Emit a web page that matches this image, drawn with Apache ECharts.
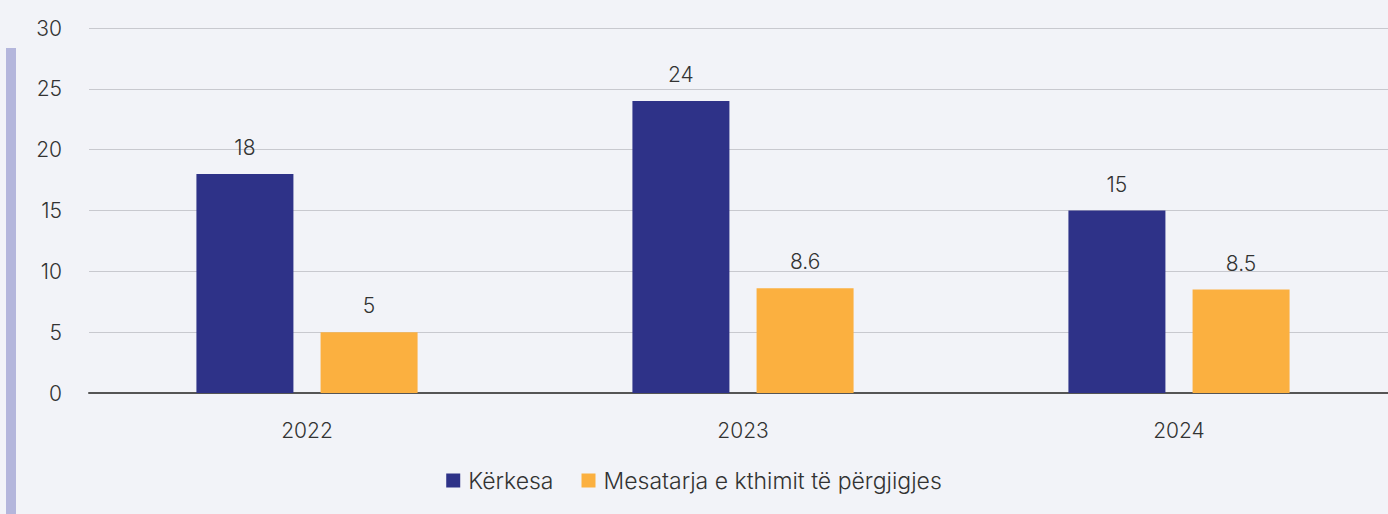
<!DOCTYPE html>
<html>
<head>
<meta charset="utf-8">
<script src="https://cdn.jsdelivr.net/npm/echarts@6/dist/echarts.min.js"></script>
<style>
  html, body { margin: 0; padding: 0; background: #f2f3f8; }
  #chart { width: 1388px; height: 514px; }
</style>
</head>
<body>
<div id="chart"></div>
<script>
var years = ['2022', '2023', '2024'];
var kerkesa = [18, 24, 15];
var mesatarja = [5, 8.6, 8.5];
var seriesNames = ['Kërkesa', 'Mesatarja e kthimit të përgjigjes'];

var font = 'Inter, "Noto Sans", sans-serif';
var chart = echarts.init(document.getElementById('chart'), null, { renderer: 'svg' });
chart.setOption({
  animation: false,
  backgroundColor: '#f2f3f8',
  textStyle: { fontFamily: font },
  graphic: [{
    type: 'rect',
    left: 6, top: 48,
    shape: { width: 10, height: 470 },
    style: { fill: '#b4b6dc' }
  }],
  grid: { left: 89, right: -9, top: 28, bottom: 121, outerBoundsMode: 'none' },
  legend: {
    data: seriesNames,
    bottom: 17,
    left: 'center',
    icon: 'rect',
    itemWidth: 14,
    itemHeight: 14,
    itemGap: 28,
    textStyle: { color: '#333', fontSize: 23, fontWeight: 300, fontFamily: font, padding: [0, 0, 0, 3] }
  },
  xAxis: {
    type: 'category',
    data: years,
    axisLine: { lineStyle: { color: '#555', width: 2 } },
    axisTick: { show: false },
    axisLabel: { color: '#333', fontSize: 21, fontWeight: 300, margin: 27 }
  },
  yAxis: {
    type: 'value',
    min: 0, max: 30, interval: 5,
    axisLine: { show: false },
    axisTick: { show: false },
    splitLine: { lineStyle: { color: '#c8c9cf', width: 1 } },
    axisLabel: { color: '#333', fontSize: 21, fontWeight: 300, margin: 27 }
  },
  series: [{
    name: seriesNames[0],
    type: 'bar',
    data: kerkesa,
    barWidth: 97,
    barGap: '28%',
    itemStyle: { color: '#2e3288' },
    label: { show: true, position: 'top', distance: 16, color: '#333', fontSize: 21, fontWeight: 300 }
  }, {
    name: seriesNames[1],
    type: 'bar',
    data: mesatarja,
    barWidth: 97,
    itemStyle: { color: '#fbb040' },
    label: { show: true, position: 'top', distance: 16, color: '#333', fontSize: 21, fontWeight: 300 }
  }]
});
</script>
</body>
</html>
